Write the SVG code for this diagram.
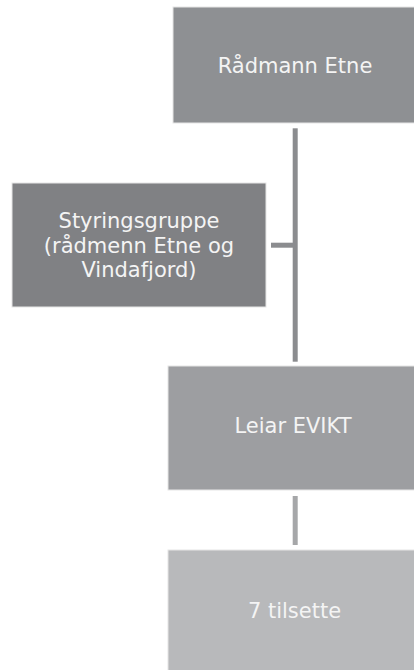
<svg xmlns="http://www.w3.org/2000/svg" width="414" height="670" viewBox="0 0 414 670">
<style>
.lbl{font-family:"DejaVu Sans",Verdana,sans-serif;font-size:21px;fill:#f4f4f4;text-anchor:middle}
.box{stroke:#e6e6e6;stroke-width:1}
</style>
<rect width="414" height="670" fill="#ffffff"/>
<g id="connectors" fill="#8b8c8f">
<rect x="292.7" y="128.3" width="5" height="233.4"/>
<rect x="271" y="242.7" width="22" height="5"/>
<rect x="292.7" y="496" width="5" height="49" fill="#a6a7a9"/>
</g>
<g id="radmann">
<rect class="box" x="173" y="7" width="245" height="116" fill="#8e9093"/>
<text class="lbl" x="295" y="73">Rådmann Etne</text>
</g>
<g id="styringsgruppe">
<rect class="box" x="12" y="183" width="254" height="124" fill="#808184"/>
<text class="lbl" x="139" y="228">Styringsgruppe</text>
<text class="lbl" x="139" y="253">(rådmenn Etne og</text>
<text class="lbl" x="139" y="277">Vindafjord)</text>
</g>
<g id="leiar">
<rect class="box" x="168" y="366" width="250" height="124" fill="#9d9ea1"/>
<text class="lbl" x="293" y="433">Leiar EVIKT</text>
</g>
<g id="tilsette">
<rect class="box" x="168" y="550" width="250" height="124" fill="#b8b9bb"/>
<text class="lbl" x="294.5" y="618">7 tilsette</text>
</g>
</svg>
